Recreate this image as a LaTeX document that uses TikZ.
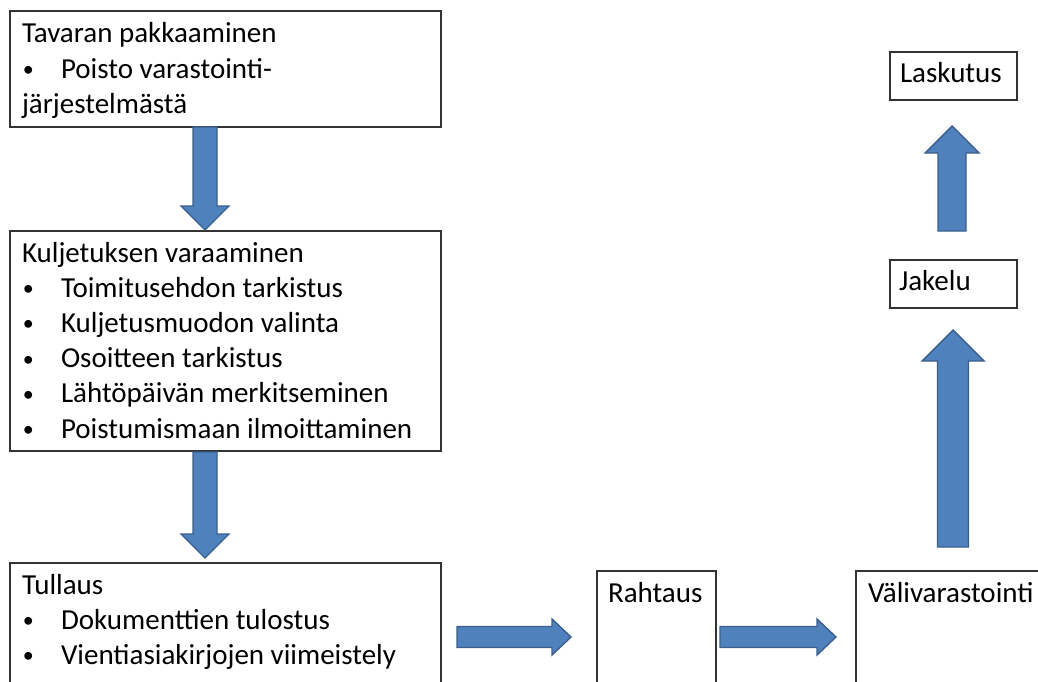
\documentclass[tikz,border=0pt]{standalone}
\usepackage{fontspec}
\setmainfont{Carlito}
\usetikzlibrary{calc}

\definecolor{arrowfill}{HTML}{4F81BD}
\definecolor{arrowline}{HTML}{3A5F8C}
\definecolor{boxline}{HTML}{333333}

\tikzset{
  stepbox/.style={draw=boxline, line width=1.4pt, fill=white, rectangle,
    inner sep=0pt, outer sep=0pt, anchor=north west},
  boxtext/.style={anchor=base west, inner sep=0pt, outer sep=0pt,
    font=\fontsize{29}{35.2}\selectfont, text=black},
  blockarrow/.style={fill=arrowfill, draw=arrowline, line width=1.4pt, line join=miter}
}

% one bulleted row inside a box
\newcommand\bulletrow[1]{\hbox{\makebox[39pt][l]{\hspace{1pt}\raisebox{1.5pt}{\fontsize{22}{22}\selectfont •}}#1}}

% wide block arrow from #1 (tail) to #2 (tip):
% #3 half shaft width, #4 half head width, #5 head length (all pt)
\newcommand\blockarrow[5]{%
  \path[blockarrow] let \p1=(#1), \p2=(#2),
      \n1={veclen(\x2-\x1,\y2-\y1)}, \n2={atan2(\y2-\y1,\x2-\x1)} in
    [shift={(\p1)}, rotate=\n2]
    (0pt,#3pt) -- ({\n1-#5pt},#3pt) -- ({\n1-#5pt},#4pt) -- ({\n1+0pt},0pt)
    -- ({\n1-#5pt},-#4pt) -- ({\n1-#5pt},-#3pt) -- (0pt,-#3pt) -- cycle;}

\begin{document}
\begin{tikzpicture}[x=1pt, y=-1pt]
\useasboundingbox (0,0) rectangle (1038,682);
\begin{scope}
\clip (0,0) rectangle (1038,682);

% process boxes
\node[stepbox, minimum width=431pt, minimum height=116pt] (pack) at (10,11) {};
\node[stepbox, minimum width=431pt, minimum height=220pt] (book) at (10,231) {};
\node[stepbox, minimum width=431pt, minimum height=130pt] (customs) at (10,563) {};
\node[stepbox, minimum width=119pt, minimum height=130pt] (freight) at (597,571) {};
\node[stepbox, minimum width=200pt, minimum height=130pt] (storage) at (856,571) {};
\node[stepbox, minimum width=127pt, minimum height=48pt] (distr) at (890,260) {};
\node[stepbox, minimum width=127pt, minimum height=48pt] (invoice) at (890,52) {};

% box texts
\node[boxtext] (packtext) at ($(pack.north west)+(12,32)$) {\vtop{%
  \hbox{Tavaran pakkaaminen}
  \bulletrow{Poisto varastointi-}
  \hbox{järjestelmästä}}};
\node[boxtext] (booktext) at ($(book.north west)+(12,31)$) {\vtop{%
  \hbox{Kuljetuksen varaaminen}
  \bulletrow{Toimitusehdon tarkistus}
  \bulletrow{Kuljetusmuodon valinta}
  \bulletrow{Osoitteen tarkistus}
  \bulletrow{Lähtöpäivän merkitseminen}
  \bulletrow{Poistumismaan ilmoittaminen}}};
\node[boxtext] (customstext) at ($(customs.north west)+(12,31)$) {\vtop{%
  \hbox{Tullaus}
  \bulletrow{Dokumenttien tulostus}
  \bulletrow{Vientiasiakirjojen viimeistely}}};
\node[boxtext] (freighttext) at ($(freight.north west)+(11,31)$) {Rahtaus};
\node[boxtext] (storagetext) at ($(storage.north west)+(12,31)$) {Välivarastointi};
\node[boxtext] (distrtext) at ($(distr.north west)+(9,30)$) {Jakelu};
\node[boxtext] (invoicetext) at ($(invoice.north west)+(10,31)$) {Laskutus};

% arrow ends
\coordinate (a1s) at (205,127);  \coordinate (a1e) at (205,230);
\coordinate (a2s) at (205,452);  \coordinate (a2e) at (205,558);
\coordinate (h1s) at (457,637);  \coordinate (h1e) at (571,637);
\coordinate (h2s) at (720,637);  \coordinate (h2e) at (836,637);
\coordinate (u1s) at (953,547);  \coordinate (u1e) at (953,330);
\coordinate (u2s) at (952,231);  \coordinate (u2e) at (952,126);

% block arrows
\blockarrow{a1s}{a1e}{12}{24}{24}
\blockarrow{a2s}{a2e}{12}{24}{24}
\blockarrow{h1s}{h1e}{10.5}{18}{19}
\blockarrow{h2s}{h2e}{10.5}{18}{19}
\blockarrow{u1s}{u1e}{15.5}{31}{31}
\blockarrow{u2s}{u2e}{14}{27}{27}
\end{scope}
\end{tikzpicture}
\end{document}
